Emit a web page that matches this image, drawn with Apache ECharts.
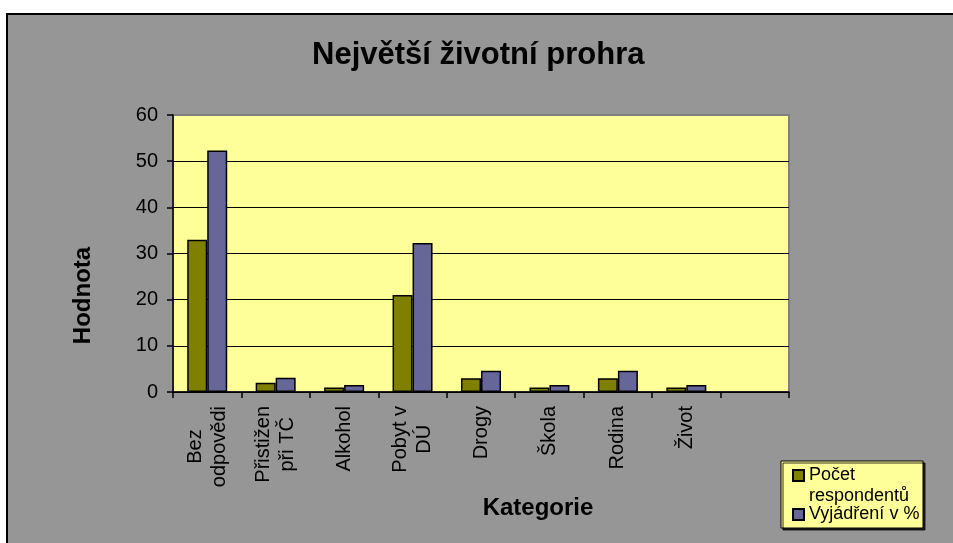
<!DOCTYPE html>
<html>
<head>
<meta charset="utf-8">
<script src="https://cdn.jsdelivr.net/npm/echarts@6/dist/echarts.min.js"></script>
<style>
html,body{margin:0;padding:0;background:#fff;}
#chart{width:953px;height:543px;}
</style>
</head>
<body>
<div id="chart"></div>
<script>
// data
var categories = ['Bez\nodpovědi', 'Přistižen\npři TČ', 'Alkohol', 'Pobyt v\nDÚ', 'Drogy', 'Škola', 'Rodina', 'Život', ''];
var pocetRespondentu = [33, 2, 1, 21, 3, 1, 3, 1, null];
var vyjadreniProcent = [52.3, 3.1, 1.5, 32.3, 4.6, 1.5, 4.6, 1.5, null];
var seriesNames = ['Počet\nrespondentů', 'Vyjádření v %'];
var yTicks = {min: 0, max: 60, interval: 10};

var FONT = '"Liberation Sans", Arial, sans-serif';

function catLabel(val){
	if(!val) return '';
	// each line centred inside the rotated block
	return val.split('\n').map(function(s){ return '{c|' + s + '}'; }).join('\n');
}

var myChart = echarts.init(document.getElementById('chart'));

var option = {
	backgroundColor: '#fff',
	animation: false,
	textStyle: {fontFamily: FONT},
	graphic: [{
		type: 'rect',
		z: -10,
		shape: {x: 7, y: 14, width: 960, height: 540},
		style: {fill: '#969696', stroke: '#000', lineWidth: 2}
	}, {
		// legend frame
		type: 'rect',
		shape: {x: 781, y: 461, width: 142, height: 67},
		style: {fill: '#ffff99', stroke: '#000', lineWidth: 1, shadowColor: 'rgba(0,0,0,0.8)', shadowOffsetX: 2, shadowOffsetY: 2}
	}],
	title: {
		text: 'Největší životní prohra',
		left: 307,
		top: 35,
		textStyle: {fontFamily: FONT, fontSize: 31, fontWeight: 'bold', color: '#000'}
	},
	legend: {
		orient: 'vertical',
		left: 792,
		top: 444,
		padding: 0,
		itemGap: -3,
		itemWidth: 11,
		itemHeight: 11,
		icon: 'rect',
		textStyle: {fontFamily: FONT, fontSize: 18, color: '#000', lineHeight: 21},
		// wrapped name: keep its first line level with the marker
		formatter: function(name){ return name.indexOf('\n') > -1 ? '\n' + name : name; },
		data: seriesNames
	},
	grid: {
		left: 173,
		top: 115,
		right: 164,
		bottom: 151,
		show: true,
		backgroundColor: '#ffff99',
		borderColor: '#808080',
		borderWidth: 2
	},
	xAxis: {
		type: 'category',
		data: categories,
		boundaryGap: true,
		name: 'Kategorie',
		nameLocation: 'middle',
		nameGap: 104,
		nameTextStyle: {fontFamily: FONT, fontSize: 24, fontWeight: 'bold', color: '#000', padding: [0, 0, 0, 114]},
		axisLine: {show: true, lineStyle: {color: '#000', width: 1.5}},
		axisTick: {show: true, inside: false, length: 6, lineStyle: {color: '#000', width: 1.5}},
		axisLabel: {
			interval: 0,
			rotate: 90,
			margin: 14,
			fontFamily: FONT,
			fontSize: 20,
			color: '#000',
			lineHeight: 24,
			formatter: catLabel,
			rich: {c: {align: 'center', fontFamily: FONT, fontSize: 20, color: '#000', lineHeight: 24}}
		}
	},
	yAxis: {
		type: 'value',
		min: yTicks.min,
		max: yTicks.max,
		interval: yTicks.interval,
		name: 'Hodnota',
		nameLocation: 'middle',
		nameGap: 78,
		nameTextStyle: {fontFamily: FONT, fontSize: 24, fontWeight: 'bold', color: '#000', padding: [0, 84, 0, 0]},
		axisLine: {show: true, lineStyle: {color: '#000', width: 1.5}},
		axisTick: {show: true, inside: false, length: 6, lineStyle: {color: '#000', width: 1.5}},
		axisLabel: {margin: 15, fontFamily: FONT, fontSize: 20, color: '#000'},
		splitLine: {
			show: true,
			lineStyle: {color: ['#000', '#000', '#000', '#000', '#000', '#000', '#808080'], width: 1}
		}
	},
	series: [{
		name: seriesNames[0],
		type: 'bar',
		data: pocetRespondentu,
		barWidth: 20,
		barGap: '0%',
		itemStyle: {color: '#808000', borderColor: '#000', borderWidth: 1.5}
	}, {
		name: seriesNames[1],
		type: 'bar',
		data: vyjadreniProcent,
		barWidth: 20,
		barGap: '0%',
		itemStyle: {color: '#666699', borderColor: '#000', borderWidth: 1.5}
	}]
};

myChart.setOption(option);
</script>
</body>
</html>
